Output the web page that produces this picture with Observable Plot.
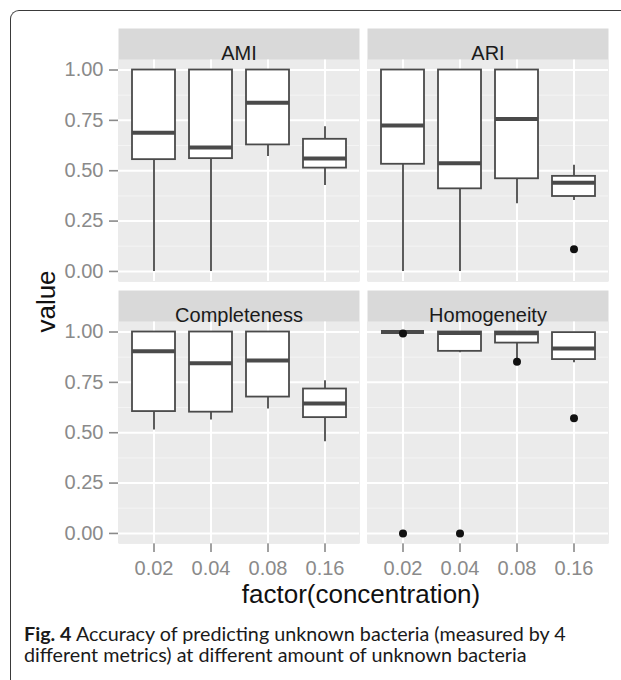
<!DOCTYPE html>
<html>
<head>
<meta charset="utf-8">
<script src="https://cdn.jsdelivr.net/npm/d3@7"></script>
<script src="https://cdn.jsdelivr.net/npm/@observablehq/plot@0.6"></script>
<style>
  body { margin: 0; background: #fff; }
  #wrap { position: relative; width: 621px; height: 680px; overflow: hidden; background: #fff; }
  #frame { position: absolute; left: 10px; top: 10px; width: 900px; height: 900px;
           border-top: 1.4px solid #3a3a3a; border-left: 1.4px solid #3a3a3a;
           border-top-left-radius: 9px; box-sizing: border-box; }
  #chart { position: absolute; left: 0; top: 0; }
  #chart svg { max-width: none !important; }
  #labels { position: absolute; left: 0; top: 0; }
  #chart [aria-label^="y-axis"], #chart [aria-label^="x-axis"] { color: #8a8a8a; }
  #chart [aria-label^="y-axis"] line, #chart [aria-label^="x-axis"] line,
  #chart [aria-label="y-axis tick"] path, #chart [aria-label="x-axis tick"] path { stroke-width: 1.6px; }
</style>
</head>
<body>
<div id="wrap">
  <div id="frame"></div>
  <div id="chart"></div>
  <svg id="labels" width="621" height="680"></svg>
</div>
<script>
// ---- data ----
const metrics = ["AMI", "ARI", "Completeness", "Homogeneity"];
const concentrations = ["0.02", "0.04", "0.08", "0.16"];

// per metric (rows) and concentration (columns)
const whiskerLow = [
  [0.000, 0.000, 0.571, 0.427],   // AMI
  [0.000, 0.000, 0.336, 0.352],   // ARI
  [0.513, 0.563, 0.618, 0.455],   // Completeness
  [1.000, 0.897, 0.865, 0.848]    // Homogeneity
];
const lowerHinge = [
  [0.555, 0.560, 0.628, 0.513],
  [0.532, 0.410, 0.460, 0.372],
  [0.605, 0.602, 0.677, 0.575],
  [1.000, 0.904, 0.945, 0.863]
];
const medians = [
  [0.688, 0.615, 0.837, 0.561],
  [0.724, 0.537, 0.757, 0.440],
  [0.905, 0.845, 0.858, 0.645],
  [1.000, 0.995, 0.994, 0.918]
];
const upperHinge = [
  [1.000, 1.000, 1.000, 0.656],
  [1.000, 1.000, 1.000, 0.472],
  [1.000, 1.000, 1.000, 0.717],
  [1.000, 1.000, 1.000, 0.997]
];
const whiskerHigh = [
  [1.000, 1.000, 1.000, 0.718],
  [1.000, 1.000, 1.000, 0.527],
  [1.000, 1.000, 1.000, 0.758],
  [1.000, 1.000, 1.000, 0.997]
];

// outliers
const outlierMetric = ["ARI", "Homogeneity", "Homogeneity", "Homogeneity", "Homogeneity", "Homogeneity"];
const outlierConcentration = ["0.16", "0.02", "0.02", "0.04", "0.08", "0.16"];
const outlierValue = [0.110, 0.992, 0.000, 0.000, 0.852, 0.572];

// axis breaks
const majorBreaks = [0, 0.25, 0.5, 0.75, 1];
const minorBreaks = [0.125, 0.375, 0.625, 0.875];

// ---- table for faceting ----
const rows = [];
metrics.forEach((metric, i) => {
  concentrations.forEach((c, j) => {
    rows.push({
      kind: "box", metric, col: i % 2, row: Math.floor(i / 2), concentration: c,
      lo: whiskerLow[i][j], q1: lowerHinge[i][j], median: medians[i][j],
      q3: upperHinge[i][j], hi: whiskerHigh[i][j]
    });
  });
});
outlierMetric.forEach((m, k) => {
  const i = metrics.indexOf(m);
  rows.push({kind: "outlier", metric: m, col: i % 2, row: Math.floor(i / 2),
             concentration: outlierConcentration[k], value: outlierValue[k]});
});

const isBox = d => d.kind === "box";
const isOutlier = d => d.kind === "outlier";
const boxStroke = "#4a4a4a";
const stripTop = 1.05 + 31.5 / 201.8;

const chart = Plot.plot({
  width: 621,
  height: 620,
  marginLeft: 118,
  marginRight: 13,
  marginTop: 28,
  marginBottom: 76,
  style: {fontFamily: "'Liberation Sans', Arial, Helvetica, sans-serif", fontSize: "20px",
          background: "transparent", color: "#8a8a8a", overflow: "visible"},
  facet: {data: rows, x: "col", y: "row", marginTop: 0, marginRight: 0, marginBottom: 0, marginLeft: 0},
  fx: {axis: null, domain: [0, 1], paddingInner: 8 / 249, paddingOuter: 0},
  fy: {axis: null, domain: [0, 1], paddingInner: 9 / 262.5, paddingOuter: 0},
  x: {domain: concentrations, paddingInner: 0.25, paddingOuter: 0.225, align: 0.5,
      tickSize: 9, tickPadding: 8, label: null},
  y: {domain: [-0.05, stripTop], ticks: majorBreaks, tickFormat: ".2f",
      tickSize: 9, tickPadding: 6, label: null},
  marks: [
    Plot.frame({fill: "#d9d9d9", stroke: "none"}),
    Plot.rect([0], {y1: -0.05, y2: 1.05, fill: "#ebebeb"}),
    Plot.ruleY(minorBreaks, {stroke: "#f4f4f4", strokeWidth: 1}),
    Plot.ruleY(majorBreaks, {stroke: "#ffffff", strokeWidth: 2}),
    Plot.ruleX(concentrations, {x: d => d, y1: -0.05, y2: 1.05, stroke: "#ffffff", strokeWidth: 2}),
    Plot.ruleX(rows, {filter: isBox, x: "concentration", y1: "lo", y2: "q1", stroke: boxStroke, strokeWidth: 1.8}),
    Plot.ruleX(rows, {filter: isBox, x: "concentration", y1: "q3", y2: "hi", stroke: boxStroke, strokeWidth: 1.8}),
    Plot.barY(rows, {filter: isBox, x: "concentration", y1: "q1", y2: "q3", fill: "#ffffff",
                     stroke: boxStroke, strokeWidth: 1.8}),
    Plot.tickY(rows, {filter: isBox, x: "concentration", y: "median", stroke: boxStroke, strokeWidth: 4}),
    Plot.dot(rows, {filter: isOutlier, x: "concentration", y: "value", r: 4, fill: "#111111", stroke: "none"}),
    Plot.text(rows, {filter: d => isBox(d) && d.concentration === concentrations[0], text: "metric",
                     frameAnchor: "top", dy: 16.8, fill: "#1a1a1a", fontSize: 20})
  ]
});
document.getElementById("chart").appendChild(chart);

// ---- titles and caption ----
const svg = d3.select("#labels");
svg.append("text")
  .attr("transform", "translate(55,301.5) rotate(-90)")
  .attr("text-anchor", "middle")
  .style("font-family", "'Liberation Sans', Arial, sans-serif")
  .style("font-size", "26px")
  .attr("fill", "#111")
  .text("value");
svg.append("text")
  .attr("x", 361).attr("y", 603)
  .attr("text-anchor", "middle")
  .style("font-family", "'Liberation Sans', Arial, sans-serif")
  .style("font-size", "26px")
  .attr("fill", "#111")
  .text("factor(concentration)");

const captionLines = [
  [{t: "Fig. 4", b: true}, {t: " Accuracy of predicting unknown bacteria (measured by 4", b: false}],
  [{t: "different metrics) at different amount of unknown bacteria", b: false}]
];
const capY = [641, 662];
const capNodes = captionLines.map((parts, k) => {
  const t = svg.append("text").attr("x", 24).attr("y", capY[k])
    .style("font-family", "Lato, 'Open Sans', sans-serif")
    .style("font-size", "16px").attr("fill", "#1a1a1a");
  parts.forEach(p => t.append("tspan").attr("font-weight", p.b ? "bold" : "normal").text(p.t));
  return t;
});
// fit caption font size to the reference line width
const w0 = capNodes[0].node().getComputedTextLength();
const fs = 16 * 542 / w0;
capNodes.forEach(n => n.style("font-size", fs + "px"));
</script>
</body>
</html>
